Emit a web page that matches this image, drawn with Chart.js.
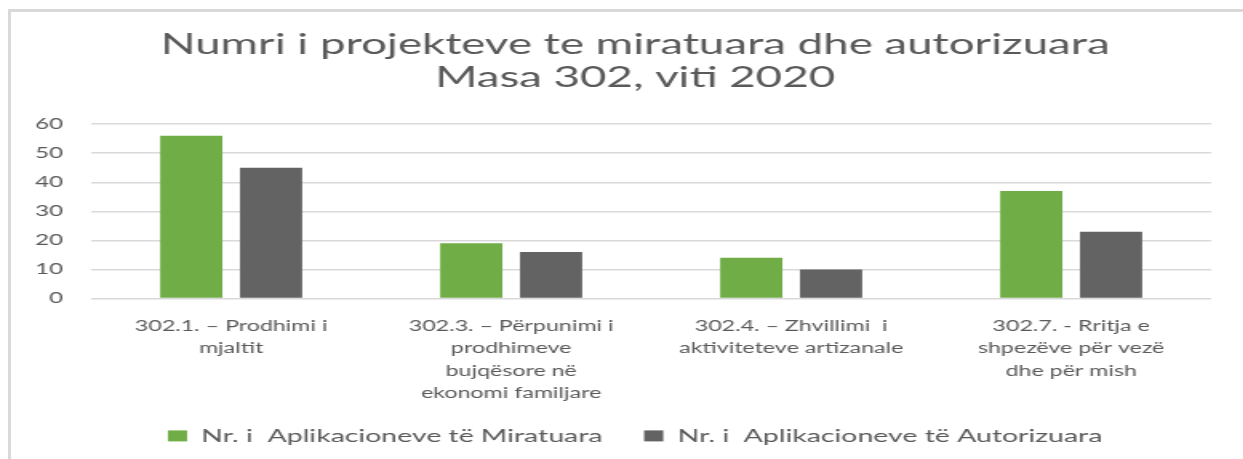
<!DOCTYPE html>
<html>
<head>
<meta charset="utf-8">
<script src="https://cdn.jsdelivr.net/npm/chart.js@4"></script>
<style>
  html, body { margin: 0; padding: 0; background: #fff; overflow: hidden; }
  #frame {
    position: absolute; left: 8px; top: 9px; width: 1300px; height: 500px;
    border-top: 3px solid #d9d9d9; border-left: 3px solid #d9d9d9;
  }
  /* the reference picture is stretched sideways, so the chart is drawn narrow and widened */
  #wrap {
    position: absolute; left: 0; top: 0; width: 777px; height: 459px;
    transform: scaleX(1.6); transform-origin: 0 0;
  }
</style>
</head>
<body>
<div id="frame"></div>
<div id="wrap"><canvas id="chart_projects"></canvas></div>
<script>
var categories = [
    ['302.1. \u2013 Prodhimi i', 'mjaltit'],
    ['302.3. \u2013 P\u00ebrpunimi i', 'prodhimeve', 'bujq\u00ebsore n\u00eb', 'ekonomi familjare'],
    ['302.4. \u2013 Zhvillimi  i', 'aktiviteteve artizanale'],
    ['302.7. - Rritja e', 'shpez\u00ebve p\u00ebr vez\u00eb', 'dhe p\u00ebr mish']
];
var miratuara = [56, 19, 14, 37];
var autorizuara = [45, 16, 10, 23];
var seriesNames = ['Nr. i  Aplikacioneve t\u00eb Miratuara', 'Nr. i  Aplikacioneve t\u00eb Autorizuara'];
var titleLines = ['Numri i projekteve te miratuara dhe autorizuara', 'Masa 302, viti 2020'];

document.addEventListener("DOMContentLoaded", function() {
    var ctx = document.getElementById('chart_projects').getContext('2d');
    var textColor = '#595959';
    var fontFamily = "Lato, 'Open Sans', sans-serif";

    new Chart(ctx, {
        type: 'bar',
        data: {
            labels: categories,
            datasets: [
                {
                    label: seriesNames[0],
                    data: miratuara,
                    backgroundColor: '#70ad47',
                    categoryPercentage: 0.57,
                    barPercentage: 0.78
                },
                {
                    label: seriesNames[1],
                    data: autorizuara,
                    backgroundColor: '#636363',
                    categoryPercentage: 0.57,
                    barPercentage: 0.78
                }
            ]
        },
        options: {
            responsive: true,
            maintainAspectRatio: false,
            animation: false,
            layout: { padding: { left: 37, right: 20, top: 28, bottom: 14 } },
            plugins: {
                title: {
                    display: true,
                    text: titleLines,
                    color: textColor,
                    font: { family: fontFamily, size: 28.5, weight: 'normal', lineHeight: 1.16 },
                    padding: { top: 0, bottom: 30 }
                },
                legend: {
                    position: 'bottom',
                    maxHeight: 44,
                    labels: {
                        color: textColor,
                        boxWidth: 12,
                        boxHeight: 11,
                        padding: 26,
                        font: { family: fontFamily, size: 17.8 }
                    }
                },
                tooltip: { enabled: false }
            },
            scales: {
                x: {
                    grid: { display: false },
                    border: { display: false },
                    afterFit: function(axis) {
                        axis.height -= 12;
                    },
                    ticks: {
                        color: textColor,
                        maxRotation: 0,
                        autoSkip: false,
                        padding: 8,
                        font: { family: fontFamily, size: 14.5, lineHeight: 1.56 }
                    }
                },
                y: {
                    min: 0,
                    max: 60,
                    grid: { color: '#d9d9d9', lineWidth: 1.5, drawTicks: false },
                    border: { display: false },
                    afterFit: function(axis) {
                        axis.width = 20;
                    },
                    ticks: {
                        stepSize: 10,
                        color: textColor,
                        mirror: true,
                        crossAlign: 'far',
                        padding: -35,
                        font: { family: fontFamily, size: 15 }
                    }
                }
            }
        }
    });
});
</script>
</body>
</html>
